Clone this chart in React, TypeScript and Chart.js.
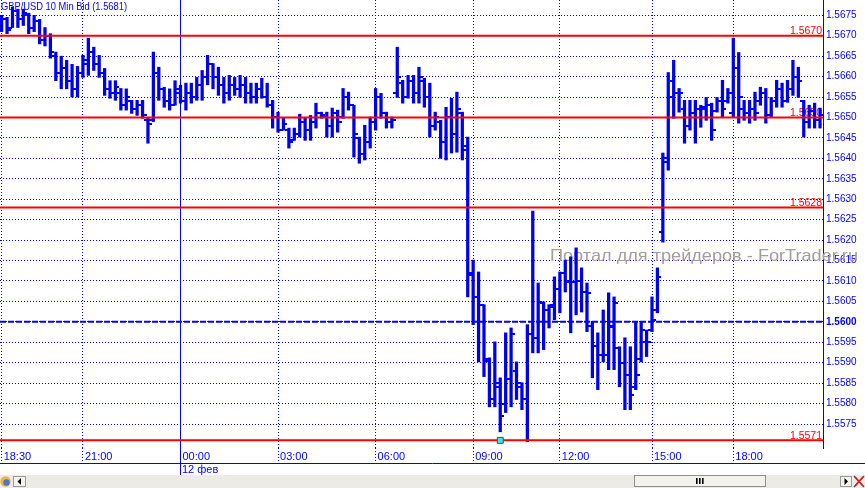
import React, { useEffect, useRef } from 'react';
import { Chart, registerables } from 'chart.js';

Chart.register(...registerables);

const FONT = '"Liberation Sans", Arial, sans-serif';
const BLUE = '#0000ff';
const BAR_COLOR = '#0000f0';
const RED = '#ff0000';

const TITLE = 'GBP/USD 10 Min Bid (1.5681)';
const WATERMARK = 'Портал для трейдеров - ForTrader.ru';
const DAY_LABEL = '12 фев';

// x axis: bar index of each time label
const X_TICKS = [0, 15, 33, 51, 69, 87, 103, 120, 135];
const X_LABELS = ['18:30', '21:00', '00:00', '03:00', '06:00', '09:00', '12:00', '15:00', '18:00'];
const DAY_TICK = 33;
const X_MIN = -0.3;
const X_MAX = 151.55;

// y axis
const Y_TICKS = [
  1.5575, 1.558, 1.5585, 1.559, 1.5595, 1.56, 1.5605, 1.561, 1.5615, 1.562, 1.5625,
  1.563, 1.5635, 1.564, 1.5645, 1.565, 1.5655, 1.566, 1.5665, 1.567, 1.5675,
];
const Y_MIN = 1.556913;
const Y_MAX = 1.567874;

// horizontal levels
const LEVELS = [1.567, 1.565, 1.5628, 1.5571];
const LEVEL_LABELS = ['1.5670', '1.5650', '1.5628', '1.5571'];
const PIVOT = 1.56;
const MARKER_INDEX = 92;
const MARKER_VALUE = 1.5571;

// OHLC values in pips relative to 1.5600 (10-minute bars)
const PIP_BASE = 1.56;
const OPEN = [
  72, 74, 72, 76, 74, 75, 72, 73.5, 69, 70, 65, 61, 62, 59, 57,
  61, 63, 66, 63, 61, 57, 56, 56, 53, 54, 52, 53, 49.5, 49.5, 61, 57, 54, 53,
  56, 54, 56, 55, 58, 60, 63, 60, 58, 56, 58, 57, 58, 56, 55, 57, 55, 53,
  50, 47, 47, 44.5, 46, 49, 47, 49, 51, 50, 48, 51, 50, 55, 53, 45, 41, 44,
  49, 55, 51, 49, 56, 58.5, 55, 59, 56, 59, 55, 48, 49, 44, 50, 46, 51, 43,
  11.5, 6, 4, -9, -19, -15, -20, -14, -12, -16, -19, -3, -4, 4.5, 3, 4,
  8, 12, 10, 9.7, 10, 7.3, -1, -6, -8, -8, -1, -6.5, -10, -13, -16, -9, -5,
  -2, 3, 22, 39, 59, 56, 52, 48, 51, 52, 52, 53, 51.5, 54, 54,
  51, 62, 52, 51, 52, 54, 56, 50.5, 54, 57, 54, 57, 60, 54, 49, 51.5, 49.5,
];
const HIGH = [
  75, 74.5, 77, 76.5, 76.5, 75.5, 75, 74, 72, 70.5, 66, 65, 64, 63, 62.5,
  65.2, 69.4, 67.2, 65.2, 62, 59, 59, 57.1, 57, 54.2, 54.2, 54.2, 49.8, 66, 62.3, 57.4, 57, 59,
  57.9, 58.4, 58.4, 59.8, 61.5, 65.2, 63.2, 62.3, 59.8, 60.3, 59.8, 60.3, 59.8, 58.4, 58.4, 59.6, 58.4, 54.2,
  51.3, 49.8, 47.4, 47.4, 50.8, 49.8, 50.5, 53.5, 51.3, 51.3, 52.3, 51.8, 57.1, 56.2, 53, 45.2, 48.1, 50.1,
  57.1, 55.9, 51.3, 50.1, 67.2, 59.1, 60.3, 60.3, 62.3, 59.6, 58.4, 51.3, 49.3, 52.5, 54.7, 56.2, 51.3, 45.2,
  15.1, 12.2, 4.2, -8.8, -4.9, -13.7, -2.7, -1.5, -9.8, -14.9, -0.7, 27.1, 9.5, 4.9, 4.2, 11,
  12.2, 15.1, 15.9, 18.1, 13.2, 9.5, 0, -2.7, 2.9, 7.1, 6.1, -6.1, -3.9, -6.1, 0, 0, -2,
  6.1, 13.2, 41.3, 61, 64, 57.1, 54.2, 54.2, 54.2, 53, 54.9, 53.5, 54.9, 59.1, 57.1,
  69.4, 65.9, 54.2, 54.2, 56.2, 57.4, 57.1, 54.9, 59.1, 58.4, 59.1, 64, 62.3, 54.2, 53, 53.5, 52.3,
];
const LOW = [
  71, 70.5, 72, 72, 72.5, 70.5, 71, 68, 67.5, 64.5, 59, 57, 57, 55, 55,
  59.8, 60.3, 61.5, 59.8, 55.4, 54.7, 54.2, 51.8, 51.8, 51, 50.5, 49.8, 43.7, 49, 54.2, 52.5, 51.8, 53,
  53.5, 51.8, 53.5, 54.2, 54.2, 58, 57, 55.4, 53.5, 54.2, 55.4, 54.9, 53.5, 53.5, 53.5, 54.7, 52.5, 47.4,
  46.4, 46.9, 42.5, 44.4, 45.2, 44.4, 44.4, 47.4, 49.8, 45.2, 45.2, 46.4, 49.8, 51.8, 40.3, 38.8, 39.6, 42.5,
  46.9, 49.8, 47.4, 47.4, 54.9, 53.5, 54.7, 53.5, 53.5, 52.5, 45.2, 46.9, 40, 39.6, 41.3, 41.5, 39.6, 6.1,
  -0.7, -9.8, -13.4, -20.8, -20.8, -26.9, -22.2, -20.8, -19, -21.5, -29.3, -7.6, -7.6, -6.8, -1.5, 0.5,
  2.2, 7.3, -2.7, 1.7, 2.4, -2.4, -13.7, -16.6, -9.8, -11.7, -11.7, -15.9, -21.5, -21.5, -16.6, -9.8, -8.5,
  -2.4, 2.2, 19.5, 37.1, 49.8, 51.3, 43.7, 46.9, 43.7, 47.6, 49.3, 44.4, 51.3, 50.1, 53.5,
  50.1, 48.6, 49.3, 48.6, 49.3, 53, 48.6, 50.1, 52.5, 52.5, 53.7, 55.4, 54.9, 45.2, 47.4, 47.4, 47.4,
];
const CLOSE = [
  74, 71.5, 76, 74, 75.5, 72, 73.5, 69, 70, 66, 61, 62, 59, 57, 61,
  64, 66, 63, 61, 57, 56, 57.5, 53, 55, 52, 53, 50.5, 48.5, 61, 57, 54, 53, 57,
  54, 56, 55, 58, 60, 63, 60, 58, 56, 58, 57, 58, 56, 55, 57, 55, 53, 50,
  47, 48.5, 44, 46, 49, 47, 49, 51, 50.5, 48, 51, 49, 55, 53, 46, 41, 44, 49,
  55, 51, 49, 49.5, 60, 55, 59, 56, 60, 55, 48, 50, 44, 50, 46, 52, 42, 12,
  6, 4, -9.5, -19, -16, -23, -14, -3, -15, -19, -3, -4, 4.9, 3, 3.7, 8,
  12, 9.7, 9.7, 10, 7.3, 7, -6, -8, -8, -1.2, 4.6, -10, -13, -18, -13, -2, -5,
  0.5, 11, 40, 55, 56, 56, 48, 51, 52, 52.5, 53, 47, 54, 52, 56,
  62, 55, 51, 52, 51, 56, 50.5, 54, 57, 54, 57, 60, 59, 49, 51.5, 49.5, 50.5,
];

const toPrice = (p: number) => +(PIP_BASE + p / 10000).toFixed(5);

function tickImage(side: 'left' | 'right') {
  const c = document.createElement('canvas');
  c.width = 8;
  c.height = 2;
  const g = c.getContext('2d')!;
  g.fillStyle = BAR_COLOR;
  if (side === 'left') g.fillRect(0, 0, 4, 2);
  else g.fillRect(4, 0, 4, 2);
  return c;
}

function fitText(ctx: CanvasRenderingContext2D, text: string, x: number, y: number, size: number, target: number) {
  ctx.font = `${size}px ${FONT}`;
  const w = ctx.measureText(text).width;
  ctx.save();
  ctx.translate(x, y);
  ctx.scale(target / w, 1);
  ctx.textAlign = 'left';
  ctx.textBaseline = 'alphabetic';
  ctx.fillText(text, 0, 0);
  ctx.restore();
}

function drawButton(ctx: CanvasRenderingContext2D, x: number, y: number, w: number, h: number, dir: 'left' | 'right') {
  ctx.fillStyle = '#f4f3ee';
  ctx.fillRect(x, y, w, h);
  ctx.strokeStyle = '#9a9a9a';
  ctx.lineWidth = 1;
  ctx.strokeRect(x + 0.5, y + 0.5, w - 1, h - 1);
  ctx.fillStyle = '#000000';
  const cx = x + w / 2;
  const cy = y + h / 2;
  ctx.beginPath();
  if (dir === 'left') {
    ctx.moveTo(cx - 2, cy);
    ctx.lineTo(cx + 1.5, cy - 3.5);
    ctx.lineTo(cx + 1.5, cy + 3.5);
  } else {
    ctx.moveTo(cx + 2, cy);
    ctx.lineTo(cx - 1.5, cy - 3.5);
    ctx.lineTo(cx - 1.5, cy + 3.5);
  }
  ctx.closePath();
  ctx.fill();
}

const decorPlugin = {
  id: 'decor',
  beforeDatasetsDraw(chart: any) {
    const { ctx, chartArea, scales } = chart;
    const y = scales.y;
    const x = scales.x;
    ctx.imageSmoothingEnabled = false;
    ctx.save();
    // watermark
    ctx.fillStyle = '#a59c9c';
    fitText(ctx, WATERMARK, 550, 261, 17, 308);
    // level labels
    ctx.font = `10.5px ${FONT}`;
    ctx.fillStyle = RED;
    ctx.textAlign = 'right';
    ctx.textBaseline = 'alphabetic';
    LEVELS.forEach((v, k) => {
      ctx.fillText(LEVEL_LABELS[k], chartArea.right - 1, y.getPixelForValue(v) - 1.5);
    });
    // solid day-boundary line
    const dx = Math.round(x.getPixelForValue(DAY_TICK)) + 0.5;
    ctx.strokeStyle = BLUE;
    ctx.lineWidth = 1;
    ctx.beginPath();
    ctx.moveTo(dx, 0);
    ctx.lineTo(dx, 475);
    ctx.stroke();
    ctx.restore();
  },
  afterDraw(chart: any) {
    const { ctx, scales } = chart;
    const x = scales.x;
    const W = chart.width;
    ctx.save();
    // title
    ctx.fillStyle = BLUE;
    fitText(ctx, TITLE, 1, 9.5, 10.5, 126);
    // separator line
    ctx.strokeStyle = BLUE;
    ctx.lineWidth = 1;
    ctx.beginPath();
    ctx.moveTo(0, 463.5);
    ctx.lineTo(W, 463.5);
    ctx.stroke();
    // day label
    const dx = Math.round(x.getPixelForValue(DAY_TICK)) + 0.5;
    ctx.font = `11px ${FONT}`;
    ctx.fillStyle = BLUE;
    ctx.textAlign = 'left';
    ctx.textBaseline = 'alphabetic';
    ctx.fillText(DAY_LABEL, dx + 1.5, 473.3);
    // scrollbar strip
    ctx.fillStyle = '#ecebe5';
    ctx.fillRect(0, 475, W, 13);
    // globe icon
    ctx.beginPath();
    ctx.arc(5.5, 481.5, 5.2, 0, Math.PI * 2);
    ctx.fillStyle = '#f2b53a';
    ctx.fill();
    ctx.beginPath();
    ctx.arc(6.5, 482.5, 3.2, 0, Math.PI * 2);
    ctx.fillStyle = '#4a78c8';
    ctx.fill();
    drawButton(ctx, 13, 476, 13, 11, 'left');
    // thumb
    ctx.fillStyle = '#f3f2ed';
    ctx.fillRect(634, 475, 132, 12);
    ctx.strokeStyle = '#8e8e8e';
    ctx.strokeRect(634.5, 475.5, 131, 11);
    ctx.fillStyle = '#000000';
    [696, 699, 702].forEach((gx) => ctx.fillRect(gx, 478, 1.6, 6));
    drawButton(ctx, 840, 476, 12, 11, 'right');
    // close icon
    ctx.strokeStyle = '#555555';
    ctx.lineWidth = 1.5;
    ctx.beginPath();
    ctx.moveTo(854, 476);
    ctx.lineTo(864, 487);
    ctx.moveTo(864, 476);
    ctx.lineTo(854, 487);
    ctx.stroke();
    ctx.strokeStyle = '#e02020';
    ctx.lineWidth = 1.5;
    ctx.beginPath();
    ctx.moveTo(855, 477);
    ctx.lineTo(863, 486);
    ctx.moveTo(863, 477);
    ctx.lineTo(855, 486);
    ctx.stroke();
    ctx.restore();
  },
};

export default function App() {
  const ref = useRef<HTMLCanvasElement>(null);

  useEffect(() => {
    const canvas = ref.current;
    if (!canvas) return;
    Chart.defaults.font.family = FONT;
    Chart.defaults.color = BLUE;

    const openImg = tickImage('left');
    const closeImg = tickImage('right');

    const datasets: any[] = [
      {
        type: 'line',
        data: [{ x: MARKER_INDEX, y: MARKER_VALUE }],
        showLine: false,
        pointStyle: 'rect',
        pointRadius: 4.2,
        pointHoverRadius: 4.2,
        backgroundColor: '#00ffff',
        borderColor: RED,
        borderWidth: 1,
        order: 1,
      },
      ...LEVELS.map((v) => ({
        type: 'line',
        data: [
          { x: X_MIN, y: v },
          { x: X_MAX, y: v },
        ],
        borderColor: RED,
        borderWidth: 2,
        pointRadius: 0,
        order: 2,
      })),
      {
        type: 'line',
        data: [
          { x: X_MIN, y: PIVOT },
          { x: X_MAX, y: PIVOT },
        ],
        borderColor: BLUE,
        borderWidth: 2,
        borderDash: [6, 2],
        pointRadius: 0,
        order: 3,
      },
      {
        type: 'line',
        data: CLOSE.map((c, i) => ({ x: i, y: toPrice(c) })),
        showLine: false,
        pointStyle: closeImg,
        pointRadius: 3,
        pointHoverRadius: 3,
        order: 4,
      },
      {
        type: 'line',
        data: OPEN.map((o, i) => ({ x: i, y: toPrice(o) })),
        showLine: false,
        pointStyle: openImg,
        pointRadius: 3,
        pointHoverRadius: 3,
        order: 4,
      },
      {
        type: 'bar',
        data: HIGH.map((h, i) => ({ x: i, y: [toPrice(LOW[i]), toPrice(h)] })),
        backgroundColor: BAR_COLOR,
        borderWidth: 0,
        barThickness: 2.6,
        order: 5,
      },
    ];

    const xGridColor = (c: any) => (c.tick && c.tick.value === DAY_TICK ? 'rgba(0,0,0,0)' : BLUE);

    const chart = new Chart(canvas, {
      type: 'bar',
      data: { datasets },
      options: {
        responsive: false,
        animation: false,
        events: [],
        layout: { padding: 0, autoPadding: false },
        plugins: {
          legend: { display: false },
          tooltip: { enabled: false },
          title: { display: false },
        },
        scales: {
          x: {
            type: 'linear',
            position: 'bottom',
            min: X_MIN,
            max: X_MAX,
            offset: false,
            afterBuildTicks: (s: any) => {
              s.ticks = X_TICKS.map((v) => ({ value: v }));
            },
            afterFit: (s: any) => {
              s.height = 40;
              s.paddingLeft = 0;
              s.paddingRight = 0;
            },
            grid: {
              offset: false,
              color: xGridColor,
              tickColor: xGridColor,
              lineWidth: 1,
              drawTicks: true,
              tickLength: 15,
              tickBorderDash: [1, 2],
            },
            border: { display: false, dash: [1, 2] },
            ticks: {
              align: 'start',
              labelOffset: 2,
              padding: -13,
              color: BLUE,
              font: { size: 11 },
              maxRotation: 0,
              autoSkip: false,
              callback: (v: any) => {
                const k = X_TICKS.indexOf(Number(v));
                return k >= 0 ? X_LABELS[k] : '';
              },
            },
          },
          y: {
            type: 'linear',
            position: 'right',
            min: Y_MIN,
            max: Y_MAX,
            afterBuildTicks: (s: any) => {
              s.ticks = Y_TICKS.map((v) => ({ value: v }));
            },
            afterFit: (s: any) => {
              s.width = 42;
              s.paddingTop = 0;
              s.paddingBottom = 0;
            },
            grid: { color: BLUE, drawTicks: false, lineWidth: 1 },
            border: { display: true, color: BLUE, dash: [1, 2], width: 1 },
            ticks: {
              padding: 3,
              color: BLUE,
              autoSkip: false,
              font: (c: any) => ({
                size: 10,
                weight: c.tick && Math.abs(c.tick.value - PIVOT) < 1e-7 ? 'bold' : 'normal',
              }),
              callback: (v: any) => Number(v).toFixed(4),
            },
          },
        },
      } as any,
      plugins: [decorPlugin],
    } as any);

    return () => chart.destroy();
  }, []);

  return (
    <div style={{ position: 'fixed', left: 0, top: 0, width: 865, height: 488, background: '#ffffff' }}>
      <canvas ref={ref} width={865} height={488} style={{ display: 'block', width: 865, height: 488 }} />
    </div>
  );
}
